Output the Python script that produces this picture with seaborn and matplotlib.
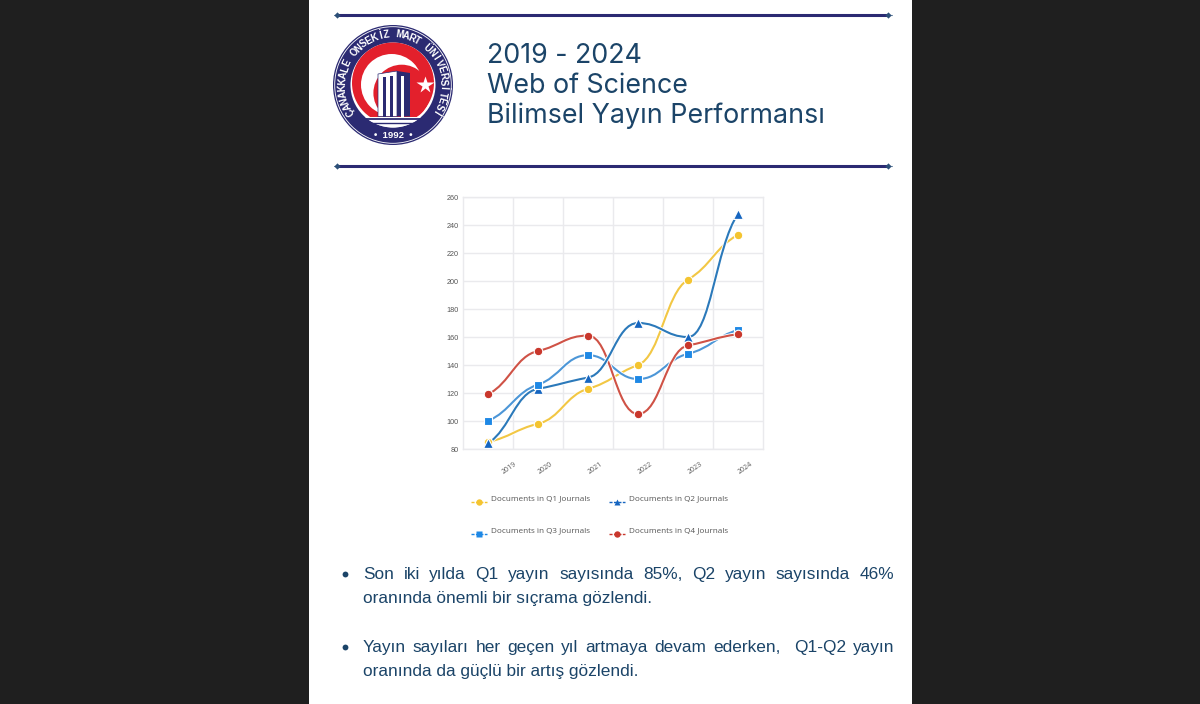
import seaborn as sns
import matplotlib.pyplot as plt
import matplotlib.patches as mpatches
from matplotlib.path import Path
import numpy as np
import pandas as pd

years = ["2019", "2020", "2021", "2022", "2023", "2024"]
q1_docs = [85, 98, 123, 140, 201, 233]
q2_docs = [84, 123, 131, 170, 160, 248]
q3_docs = [100, 126, 147, 130, 148, 165]
q4_docs = [119, 150, 161, 105, 154, 162]

series_names = ["Documents in Q1 Journals", "Documents in Q2 Journals",
                "Documents in Q3 Journals", "Documents in Q4 Journals"]
series_values = [q1_docs, q2_docs, q3_docs, q4_docs]
series_colors = ["#f4c430", "#1565c0", "#1e88e5", "#c9372c"]
line_colors = ["#f2c744", "#2b79ba", "#4c96d7", "#cf5246"]
series_markers = ["o", "^", "s", "o"]
marker_sizes = [38, 50, 36, 38]

title_lines = ["2019 - 2024", "Web of Science", "Bilimsel Yayın Performansı"]
bullet_lines = [
    ["Son iki yılda Q1 yayın sayısında 85%, Q2 yayın sayısında 46%", "oranında önemli bir sıçrama gözlendi."],
    ["Yayın sayıları her geçen yıl artmaya devam ederken,  Q1-Q2 yayın", "oranında da güçlü bir artış gözlendi."],
]
logo_text = "ÇANAKKALE ONSEKİZ MART ÜNİVERSİTESİ"

W, H = 1200, 704
NAVY = "#2b2a72"
TEXT = "#1b4468"

sns.set_theme(style="whitegrid")
plt.rcParams["font.family"] = ["Liberation Sans", "DejaVu Sans"]

fig = plt.figure(figsize=(W / 100, H / 100), dpi=100, facecolor="#1f1f1f")

# page layer in pixel coordinates, y pointing down
page = fig.add_axes([0, 0, 1, 1])
page.set_xlim(0, W)
page.set_ylim(H, 0)
page.axis("off")
page.add_patch(mpatches.Rectangle((309, 0), 603, H, fc="white", ec="none"))

# header rules
for y in [15, 166]:
    page.plot([334, 892], [y, y], color="#6f8aa6", lw=0.8)
    page.plot([337, 888], [y, y], color=NAVY, lw=2.2, solid_capstyle="butt")
    page.plot([337, 888], [y, y], ls="", marker="D", ms=3.2, color="#2c4f78", mec="none")

# logo
cx, cy = 393, 85
RED = "#e3202c"
page.add_patch(mpatches.Circle((cx, cy), 60, fc=NAVY, ec="none"))
page.add_patch(mpatches.Circle((cx, cy), 58.3, fc="none", ec="white", lw=0.6))
inner = mpatches.Circle((cx, cy), 42.5, fc="white", ec="none")
page.add_patch(inner)
parts = [
    mpatches.Circle((393, 83), 41, fc=RED, ec="none"),
    mpatches.Circle((391.7, 84.7), 30.7, fc="white", ec="none"),
    mpatches.Circle((401.7, 93), 28.3, fc=RED, ec="none"),
    mpatches.Rectangle((345, 116.5), 96, 14, fc="white", ec="none"),
    mpatches.Polygon([(378, 74), (397, 71), (397, 116.5), (378, 116.5)], fc="white", ec=NAVY, lw=0.5),
    mpatches.Polygon([(397, 71), (410, 73), (410, 116.5), (397, 116.5)], fc=NAVY, ec="none"),
    mpatches.Rectangle((400.5, 76), 3, 40.5, fc="white", ec="none"),
    mpatches.Rectangle((383, 77), 3.2, 39.5, fc=NAVY, ec="none"),
    mpatches.Rectangle((390, 76), 3.2, 40.5, fc=NAVY, ec="none"),
]
for p in parts:
    page.add_patch(p)
    p.set_clip_path(inner)
page.plot([365, 421], [118.5, 118.5], color=NAVY, lw=1.3)
page.plot([372, 414], [123, 123], color=NAVY, lw=1.0)
page.plot([425], [85], marker="*", ms=13, color="white", mec="none")
n_chars = len(logo_text)
for i, ch in enumerate(logo_text):
    ang = np.deg2rad(-122 + i * 244 / (n_chars - 1))
    page.text(cx + 50.5 * np.sin(ang), cy - 50.5 * np.cos(ang), ch, color="white", fontsize=6.9,
              fontweight="bold", ha="center", va="center", rotation=-np.rad2deg(ang))
page.text(cx, cy + 50, "•  1992  •", color="white", fontsize=6.8, fontweight="bold", ha="center", va="center")

# header text
for line, y in zip(title_lines, [56, 86, 116]):
    page.text(487, y, line, color=TEXT, fontsize=19.3, family="Inter", ha="left", va="center")

# bullets, justified word by word on the first line of each
renderer = fig.canvas.get_renderer()
for lines, y0 in zip(bullet_lines, [579, 652]):
    page.plot([345], [y0 - 5], marker="o", ms=4.2, color=TEXT, mec="none")
    words = lines[0].split(" ")
    items = [page.text(363, y0, w, color=TEXT, fontsize=12.4, ha="left", va="baseline") for w in words]
    widths = [t.get_window_extent(renderer).width if w else 0 for t, w in zip(items, words)]
    gap = (894 - 363 - sum(widths)) / (len(words) - 1)
    x = 363
    for t, w in zip(items, widths):
        t.set_x(x)
        x += w + gap
    page.text(363, y0 + 24, lines[1], color=TEXT, fontsize=12.4, ha="left", va="baseline")

# chart
ax = fig.add_axes([463 / W, 1 - 449 / H, 300 / W, 252 / H], facecolor="white")
x_pos = np.arange(len(years)) + 0.5


def smooth_path(xs, ys):
    # bezier through the data, flat at peaks and soft elsewhere
    ys = np.asarray(ys, dtype=float)
    d = np.diff(ys)
    slopes = np.zeros(len(ys))
    for i in range(1, len(ys) - 1):
        if d[i - 1] * d[i] > 0:
            slopes[i] = 2 * d[i - 1] * d[i] / (d[i - 1] + d[i]) * 0.5
    slopes[0] = d[0] * 0.6
    slopes[-1] = d[-1] * 0.6
    verts = [(xs[0], ys[0])]
    codes = [Path.MOVETO]
    for i in range(len(xs) - 1):
        verts += [(xs[i] + 0.45, ys[i] + slopes[i] * 0.45),
                  (xs[i + 1] - 0.45, ys[i + 1] - slopes[i + 1] * 0.45),
                  (xs[i + 1], ys[i + 1])]
        codes += [Path.CURVE4] * 3
    return Path(verts, codes)


for vals, col, z in zip(series_values, line_colors, [3, 4, 3, 3]):
    ax.add_patch(mpatches.PathPatch(smooth_path(x_pos, vals), fc="none", ec="white", lw=2.8, zorder=z))
    ax.add_patch(mpatches.PathPatch(smooth_path(x_pos, vals), fc="none", ec=col, lw=1.5, zorder=z))

for name, vals, col, mk, sz in zip(series_names, series_values, series_colors, series_markers, marker_sizes):
    df = pd.DataFrame({"pos": x_pos, "docs": vals})
    sns.scatterplot(data=df, x="pos", y="docs", color=col, marker=mk, s=sz, edgecolor="white",
                    linewidth=0.8, legend=False, zorder=5, clip_on=False, ax=ax)

ax.set_xlim(0, 6)
ax.set_ylim(80, 260)
ax.set_xticks(range(1, 6))
ax.set_xticklabels([])
ax.set_yticks(range(80, 261, 20))
ax.set_xlabel("")
ax.set_ylabel("")
ax.tick_params(axis="y", labelsize=5.2, labelcolor="#555555", pad=3, length=0)
ax.tick_params(axis="x", length=0)
ax.grid(True, color="#eaeaed", lw=1.0)
for s in ax.spines.values():
    s.set_color("#eaeaed")
    s.set_linewidth(1.0)

# year labels sit off the gridlines in the source
for yr, x in zip(years, [509, 545, 595, 645, 695, 745]):
    page.text(x, 468, yr, fontsize=5, color="#555555", rotation=35, ha="center", va="center",
              family="Open Sans")

# legend drawn on the page layer
legend_pos = [(471, 502), (609, 502), (471, 534), (609, 534)]
for name, col, mk, (lx, ly) in zip(series_names, series_colors, series_markers, legend_pos):
    page.plot([lx, lx + 16], [ly, ly], color=col, lw=1.0, ls=(0, (2.2, 1)))
    page.plot([lx + 8], [ly], marker=mk, ms=4.6, color=col, mec="none")
    page.text(lx + 20, ly - 3.5, name, fontsize=5.9, color="#555555", ha="left", va="center",
              family="Open Sans")

fig.savefig("out.png", dpi=100, facecolor=fig.get_facecolor())
